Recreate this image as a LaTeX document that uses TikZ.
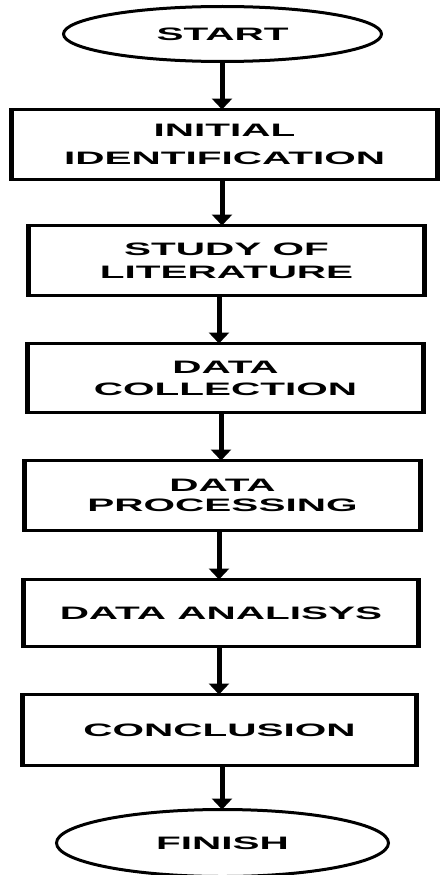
\documentclass[tikz,border=0pt]{standalone}
\usepackage{fontspec}
\newfontfamily\lbl{Liberation Sans}[FakeStretch=2.25]
\usetikzlibrary{shapes.geometric,arrows.meta}
\begin{document}
\begin{tikzpicture}[x=1pt,y=-1pt,
  every node/.style={inner sep=0pt, outer sep=0pt, align=center,
    font=\lbl\bfseries\fontsize{18}{20}\selectfont},
  stepbox/.style={draw, line width=3pt, rectangle},
  term/.style={draw, line width=3pt, ellipse},
  arr/.style={line width=5pt, -{Triangle[width=20pt,length=11pt]}},
  side/.style={line width=5pt}]
\useasboundingbox (0,0) rectangle (442,875);
\node[term, minimum width=318pt, minimum height=55pt] (start) at (222.5,34) {START};
\node[stepbox, minimum width=428pt, minimum height=70pt] (b1) at (224.5,144.5) {INITIAL\\[8pt]IDENTIFICATION};
\node[stepbox, minimum width=398pt, minimum height=70pt] (b2) at (226.5,260.5) {STUDY OF\\[3pt]LITERATURE};
\node[stepbox, minimum width=398pt, minimum height=69pt] (b3) at (225.5,378) {DATA\\[2pt]COLLECTION};
\node[stepbox, minimum width=398pt, minimum height=70pt] (b4) at (222.5,495.5) {DATA\\PROCESSING};
\node[stepbox, minimum width=397pt, minimum height=67pt] (b5) at (221,613) {DATA ANALISYS};
\node[stepbox, minimum width=396pt, minimum height=71pt] (b6) at (219.5,730) {CONCLUSION};
\node[term, minimum width=332pt, minimum height=67pt] (finish) at (222.5,843) {FINISH};
% thicker vertical edges
\foreach \n in {b1,b2,b3,b4,b5,b6}{
  \draw[side] ([xshift=1pt]\n.north west) -- ([xshift=1pt]\n.south west);
  \draw[side] ([xshift=-1pt]\n.north east) -- ([xshift=-1pt]\n.south east);
}
\coordinate (x1) at (222,0);
\coordinate (x2) at (222,0);
\coordinate (x3) at (219,0);
\coordinate (x4) at (221,0);
\coordinate (x5) at (219,0);
\coordinate (x6) at (219,0);
\coordinate (x7) at (222,0);
\draw[arr] (start.south -| x1) -- (b1.north -| x1);
\draw[arr] (b1.south -| x2) -- (b2.north -| x2);
\draw[arr] (b2.south -| x3) -- (b3.north -| x3);
\draw[arr] (b3.south -| x4) -- (b4.north -| x4);
\draw[arr] (b4.south -| x5) -- (b5.north -| x5);
\draw[arr] (b5.south -| x6) -- (b6.north -| x6);
\draw[arr] (b6.south -| x7) -- (finish.north -| x7);
\end{tikzpicture}
\end{document}
